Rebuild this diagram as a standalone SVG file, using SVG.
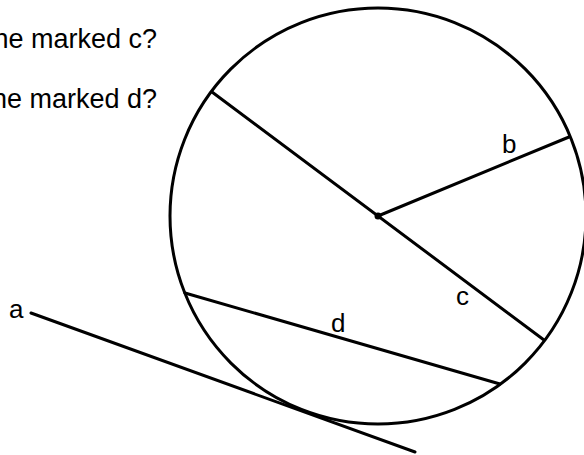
<svg xmlns="http://www.w3.org/2000/svg" width="584" height="455" viewBox="0 0 584 455">
<style>
.ln{stroke:#000;stroke-width:3;fill:none;stroke-linecap:round}
.t{font-family:"Liberation Sans",Arial,sans-serif;font-size:26px;fill:#000}
.q{font-size:27px}
</style>
<rect width="584" height="455" fill="#fff"/>
<g id="questions">
<text class="t q" x="157" y="48" text-anchor="end">ne marked c?</text>
<text class="t q" x="157" y="108" text-anchor="end">ne marked d?</text>
</g>
<g id="circle">
<circle class="ln" cx="378" cy="216" r="208"/>
<circle cx="378" cy="216" r="3.5" fill="#000"/>
</g>
<g id="connectors">
<line class="ln" x1="212" y1="92" x2="544" y2="340"/>
<line class="ln" x1="378" y1="216" x2="569" y2="137"/>
<line class="ln" x1="185" y1="293" x2="500" y2="384"/>
<line class="ln" x1="31" y1="313" x2="415" y2="452"/>
</g>
<g id="labels">
<text class="t" x="9" y="318">a</text>
<text class="t" x="502" y="153">b</text>
<text class="t" x="456" y="305">c</text>
<text class="t" x="331" y="332">d</text>
</g>
</svg>
